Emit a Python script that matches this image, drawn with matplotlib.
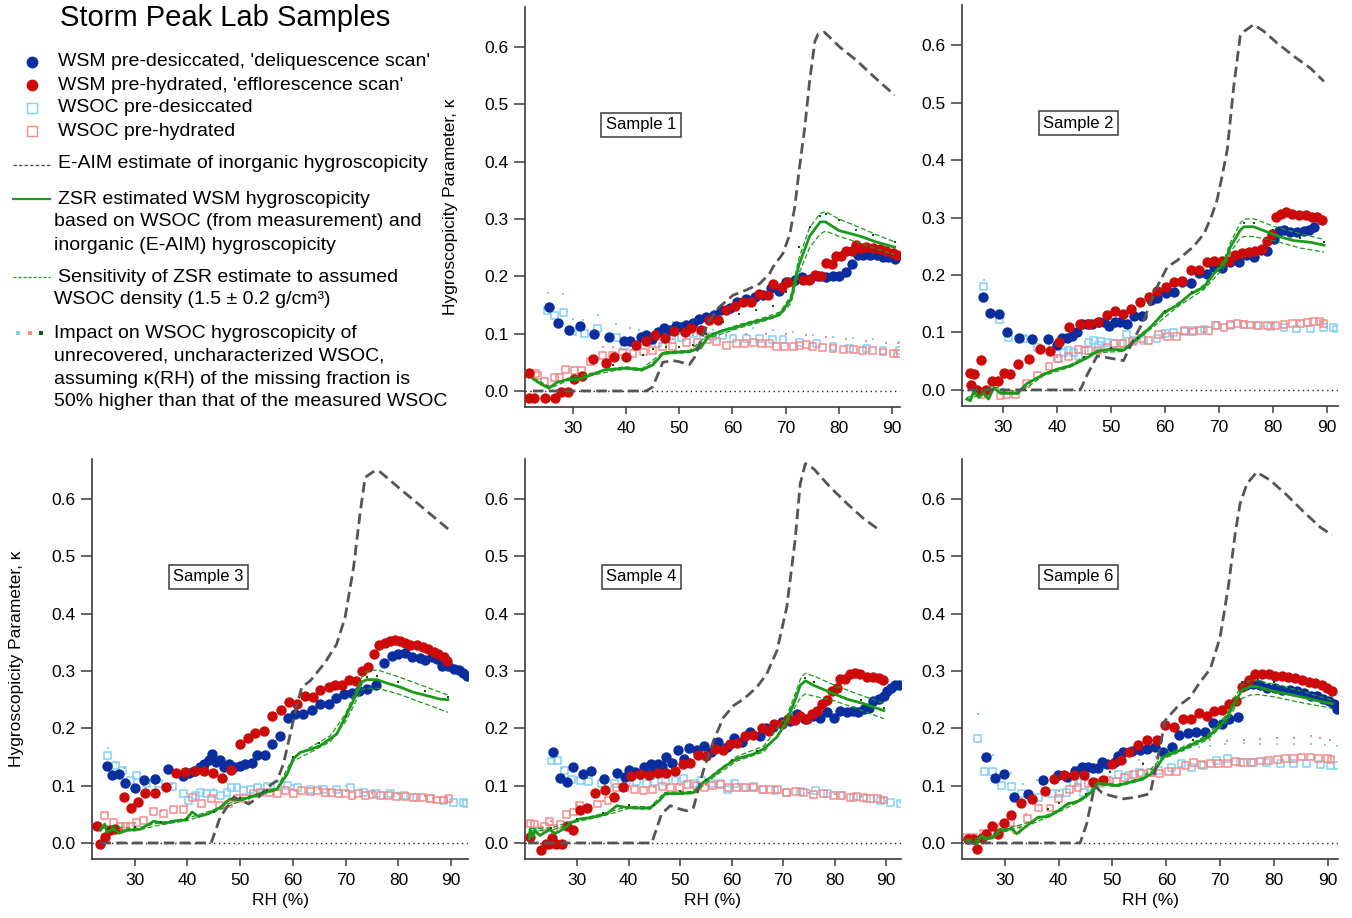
import matplotlib
matplotlib.use('Agg')
import matplotlib.pyplot as plt
import numpy as np

plt.rcParams['font.family'] = ['Liberation Sans', 'DejaVu Sans']

# ---------------- colours ----------------
C_BLUE = '#0b2e9e'
C_RED = '#cc0a0a'
C_LBLUE = '#82cff8'
C_LRED = '#f58a8a'
C_GREEN = '#1a9a1a'
C_DGREEN = '#0f5a0f'
C_GRAY = '#555555'

# ---------------- data: (RH %, kappa) ----------------
# Sample 1
S1_WSM_DRY = [(25.6,0.147),(27.2,0.119),(29.2,0.107),(31.3,0.113),(33.9,0.100),(36.8,0.094),(39.6,0.087),(40.7,0.088),
              (42.9,0.095),(43.8,0.097),(44.9,0.091),(46.0,0.103),(47.2,0.109),(48.2,0.106),(49.4,0.113),(50.4,0.112),
              (51.3,0.115),(52.6,0.119),(53.8,0.126),(55.1,0.129),(56.5,0.132),(57.9,0.141),(59.5,0.144),(60.9,0.155),
              (62.5,0.160),(64.2,0.164),(65.7,0.167),(67.3,0.180),(68.7,0.174),(70.1,0.190),(71.7,0.193),(73.1,0.199),
              (74.6,0.196),(76.1,0.200),(77.6,0.198),(78.9,0.200),(80.0,0.201),(81.3,0.208),(82.5,0.222),(83.6,0.237),
              (84.5,0.237),(85.8,0.238),(87.1,0.237),(88.3,0.233),(89.2,0.234),(90.5,0.231)]
S1_WSM_WET = [(21.8,0.031),(21.8,-0.013),(22.6,-0.013),(24.7,-0.012),(26.7,-0.012),(27.8,-0.002),(29.1,-0.002),(30.3,0.020),
              (31.8,0.026),(33.8,0.055),(36.3,0.049),(37.8,0.060),(40.0,0.060),(41.9,0.081),(43.8,0.087),(45.5,0.098),
              (47.4,0.093),(49.1,0.105),(51.0,0.103),(52.3,0.109),(54.0,0.107),(55.6,0.124),(57.3,0.123),(58.8,0.141),
              (60.4,0.149),(62.0,0.155),(63.5,0.155),(65.0,0.170),(66.7,0.167),(67.7,0.186),(69.4,0.181),(70.4,0.190),
              (73.3,0.193),(74.4,0.194),(75.5,0.202),(76.7,0.200),(77.6,0.223),(78.8,0.221),(79.5,0.235),(80.5,0.235),
              (81.4,0.245),(82.4,0.244),(83.3,0.254),(84.2,0.250),(85.2,0.251),(86.4,0.250),(87.7,0.247),(88.9,0.244),
              (90.2,0.240),(91.0,0.237)]
S1_WSOC_DRY = [(25.3,0.141),(26.6,0.132),(28.2,0.137),(30.0,0.103),(32.2,0.100),(34.7,0.109),(38.2,0.094),(39.7,0.077),
               (41.9,0.077),(44.1,0.085),(46.0,0.083),(48.5,0.090),(50.4,0.093),(52.6,0.100),(54.5,0.097),(56.3,0.095),
               (58.2,0.097),(60.1,0.091),(62.6,0.091),(65.1,0.091),(67.6,0.090),(69.5,0.090),(72.6,0.085),(75.8,0.083),
               (78.9,0.077),(82.0,0.074),(85.2,0.074),(88.3,0.071),(91.4,0.070)]
S1_WSOC_WET = [(23.0,0.031),(23.4,0.027),(24.7,0.017),(26.6,0.024),(27.5,0.023),(28.7,0.037),(30.3,0.035),(31.6,0.035),
               (33.4,0.051),(35.6,0.062),(37.5,0.062),(39.4,0.068),(41.3,0.065),(43.2,0.068),(45.0,0.071),(46.9,0.077),
               (48.8,0.077),(51.3,0.085),(53.5,0.084),(55.4,0.090),(57.0,0.087),(58.8,0.080),(60.7,0.083),(62.3,0.083),
               (63.9,0.085),(65.4,0.083),(67.0,0.083),(68.2,0.077),(69.8,0.078),(71.4,0.078),(72.6,0.080),(73.9,0.081),
               (75.1,0.077),(77.0,0.076),(78.9,0.074),(80.8,0.072),(82.7,0.072),(84.5,0.071),(86.4,0.070),(88.3,0.068),
               (90.2,0.066),(91.1,0.066)]
S1_IMP_DRY = [(25.3,0.171),(28.2,0.169),(30.0,0.126),(31.9,0.123),(34.7,0.133),(38.2,0.117),(40.7,0.109),(42.5,0.106),
              (45.0,0.103),(48.8,0.120),(52.6,0.109),(56.3,0.106),(60.0,0.106),(63.9,0.109),(67.6,0.106),(71.4,0.103),
              (75.1,0.098),(78.9,0.095),(82.7,0.093),(86.4,0.090),(91.4,0.085)]
S1_IMP_WET = [(35.6,0.077),(37.5,0.077),(41.3,0.080),(45.0,0.088),(48.8,0.091),(52.6,0.097),(55.4,0.100),(58.8,0.097),
              (62.6,0.100),(66.3,0.100),(70.1,0.100),(73.9,0.098),(77.6,0.094),(81.4,0.091),(85.2,0.088),(88.9,0.084),
              (91.1,0.083)]
S1_IMP_ZSR = [(37.5,0.045),(40.0,0.053),(43.2,0.062),(45.0,0.074),(47.6,0.077),(50.0,0.077),(52.6,0.080),(55.0,0.100),
              (58.2,0.120),(61.3,0.135),(64.5,0.141),(67.6,0.149),(70.0,0.173),(71.4,0.193),(72.6,0.251),(74.5,0.286),
              (76.4,0.306),(77.6,0.309),(80.0,0.298),(83.3,0.280),(86.4,0.272),(90.5,0.260)]
S1_EAIM = [(22.5,0.0),(43.8,0.0),(45.0,0.007),(46.3,0.036),(46.9,0.050),(48.8,0.053),(50.0,0.051),(51.9,0.046),
           (52.9,0.059),(54.5,0.100),(55.7,0.123),(57.6,0.147),(60.1,0.167),(62.6,0.176),(65.1,0.187),(67.0,0.205),
           (67.6,0.216),(69.5,0.240),(70.8,0.274),(71.7,0.320),(72.6,0.390),(73.6,0.460),(74.5,0.540),(75.5,0.610),
           (76.1,0.623),(77.3,0.626),(80.2,0.600),(83.3,0.577),(86.4,0.550),(90.5,0.516)]
S1_ZSR = [(22.5,0.0215),(24.0,0.012),(25.5,0.005),(27.0,0.015),(29.0,0.020),(31.0,0.020),(34.0,0.030),(36.0,0.037),
          (38.0,0.038),(40.0,0.040),(43.0,0.037),(45.0,0.045),(47.0,0.066),(50.0,0.068),(52.0,0.069),(54.0,0.075),
          (55.5,0.095),(58.0,0.105),(61.0,0.112),(63.0,0.118),(66.0,0.125),(68.0,0.130),(69.0,0.135),(71.0,0.160),
          (72.5,0.220),(74.5,0.270),(76.5,0.295),(77.5,0.295),(80.0,0.280),(84.0,0.270),(87.0,0.260),(90.5,0.251)]
S1_ZSR_HI = [(22.5,0.023),(25.5,0.008),(29.0,0.022),(34.0,0.032),(38.0,0.040),(40.0,0.042),(43.0,0.039),(47.0,0.068),
             (52.0,0.071),(55.5,0.098),(61.0,0.115),(66.0,0.128),(69.0,0.138),(71.0,0.167),(72.5,0.232),(74.5,0.285),
             (76.5,0.310),(77.5,0.313),(80.0,0.300),(84.0,0.285),(87.0,0.273),(90.5,0.260)]
S1_ZSR_LO = [(22.5,0.020),(25.5,0.004),(29.0,0.018),(34.0,0.028),(38.0,0.036),(40.0,0.038),(43.0,0.035),(47.0,0.064),
             (52.0,0.067),(55.5,0.092),(61.0,0.109),(66.0,0.122),(69.0,0.132),(71.0,0.153),(72.5,0.205),(74.5,0.250),
             (76.5,0.274),(77.5,0.279),(80.0,0.270),(84.0,0.258),(87.0,0.248),(90.5,0.238)]

# Sample 2
S2_WSM_DRY = [(26.2,0.161),(27.5,0.134),(29.2,0.132),(30.7,0.100),(32.9,0.090),(35.4,0.089),(38.3,0.089),(40.0,0.079),
              (40.9,0.090),(41.9,0.090),(42.8,0.094),(43.7,0.100),(44.6,0.115),(45.6,0.115),(46.5,0.115),(47.7,0.118),
              (48.6,0.118),(49.6,0.112),(50.8,0.118),(51.7,0.119),(53.0,0.114),(54.2,0.129),(55.7,0.129),(57.3,0.157),
              (58.5,0.160),(60.1,0.168),(61.6,0.170),(63.1,0.188),(64.7,0.186),(66.2,0.203),(67.7,0.202),(69.0,0.214),
              (70.6,0.213),(72.1,0.222),(73.6,0.222),(74.9,0.234),(76.4,0.232),(77.7,0.243),(78.9,0.242),(80.1,0.263),
              (81.0,0.277),(82.0,0.278),(83.2,0.275),(84.4,0.275),(85.7,0.277),(86.6,0.279),(87.5,0.284)]
S2_WSM_WET = [(23.8,0.029),(24.6,0.027),(24.1,0.009),(25.2,0.000),(26.0,0.052),(26.9,0.000),(27.9,0.016),(29.0,0.016),
              (30.2,0.029),(31.2,0.027),(32.8,0.045),(34.8,0.054),(36.9,0.071),(38.6,0.067),(40.4,0.083),(42.2,0.109),
              (44.2,0.115),(45.9,0.115),(47.6,0.119),(49.3,0.130),(50.8,0.138),(52.2,0.133),(53.6,0.141),(55.4,0.153),
              (57.0,0.162),(58.5,0.173),(60.1,0.179),(61.6,0.188),(63.1,0.189),(64.7,0.209),(66.2,0.208),(67.7,0.222),
              (69.0,0.224),(70.6,0.225),(71.8,0.225),(73.0,0.234),(74.3,0.238),(75.5,0.240),(76.7,0.242),(78.0,0.246),
              (78.9,0.260),(79.8,0.272),(80.6,0.301),(81.4,0.307),(82.3,0.310),(83.5,0.307),(84.8,0.305),(86.0,0.304),
              (87.2,0.301),(88.1,0.301),(89.1,0.296)]
S2_WSOC_DRY = [(26.4,0.180),(29.4,0.123),(31.0,0.091),(33.8,0.089),(36.3,0.074),(39.1,0.077),(40.3,0.054),(41.2,0.065),
               (42.2,0.068),(43.1,0.065),(44.0,0.059),(45.0,0.069),(45.9,0.083),(46.8,0.086),(47.7,0.077),(48.3,0.084),
               (49.3,0.083),(50.5,0.080),(51.7,0.081),(52.8,0.097),(54.2,0.086),(56.0,0.086),(58.5,0.089),(60.1,0.098),
               (61.6,0.100),(63.5,0.102),(65.3,0.103),(67.2,0.106),(69.6,0.112),(72.1,0.112),(74.6,0.114),(77.0,0.112),
               (79.5,0.110),(82.0,0.108),(84.4,0.106),(86.9,0.106),(89.4,0.109),(91.2,0.109),(91.8,0.106)]
S2_WSOC_WET = [(26.1,-0.008),(29.5,-0.010),(30.7,-0.008),(32.3,-0.008),(34.4,0.011),(36.4,0.026),(38.5,0.040),(40.0,0.054),
               (42.2,0.058),(44.0,0.071),(45.9,0.068),(47.4,0.069),(49.3,0.074),(50.6,0.081),(52.2,0.080),(53.9,0.084),
               (55.7,0.089),(57.0,0.086),(58.8,0.097),(60.4,0.093),(62.1,0.093),(63.5,0.103),(65.0,0.102),(66.5,0.103),
               (68.1,0.104),(69.3,0.112),(70.9,0.109),(72.1,0.114),(73.3,0.115),(74.6,0.114),(75.8,0.113),(77.3,0.112),
               (78.9,0.112),(80.4,0.112),(82.0,0.114),(83.5,0.115),(85.1,0.116),(86.3,0.118),(87.5,0.119),(88.5,0.119),
               (89.4,0.115)]
S2_IMP_DRY = [(26.4,0.192),(27.6,0.139),(29.4,0.129),(31.0,0.097),(34.0,0.094),(40.0,0.080),(45.0,0.075),(50.0,0.087),
              (55.0,0.092),(60.0,0.103),(65.0,0.107),(70.0,0.115),(75.0,0.117),(80.0,0.114),(85.0,0.111),(90.0,0.112)]
S2_IMP_WET = [(35.0,0.015),(40.0,0.058),(45.0,0.074),(50.0,0.083),(55.0,0.092),(60.0,0.098),(65.0,0.106),(70.0,0.114),
              (75.0,0.118),(80.0,0.117),(85.0,0.120),(89.0,0.119)]
S2_IMP_ZSR = [(45.0,0.058),(50.0,0.073),(55.0,0.091),(60.0,0.138),(65.0,0.170),(70.0,0.215),(74.6,0.290),(76.4,0.290),
              (80.0,0.279),(85.0,0.265),(89.4,0.258)]
S2_EAIM = [(23.5,0.0),(44.3,0.0),(45.5,0.025),(47.4,0.059),(50.0,0.055),(52.3,0.051),(54.0,0.085),(56.0,0.120),
           (58.0,0.170),(60.4,0.214),(62.2,0.225),(65.3,0.250),(67.2,0.272),(68.5,0.300),(69.6,0.330),(70.5,0.370),
           (71.5,0.418),(72.7,0.528),(73.9,0.616),(74.6,0.624),(76.4,0.636),(78.3,0.624),(80.7,0.604),(83.8,0.581),
           (86.9,0.560),(89.4,0.537)]
S2_ZSR = [(23.3,-0.016),(23.95,-0.019),(24.6,-0.002),(25.5,-0.013),(26.4,-0.006),(27.3,-0.016),(28.3,0.004),(29.5,-0.006),
          (32.6,-0.006),(34.4,0.011),(37.5,0.027),(40.0,0.036),(42.5,0.042),(45.6,0.056),(47.4,0.067),(49.9,0.071),
          (52.3,0.069),(54.8,0.089),(57.3,0.109),(59.8,0.135),(62.2,0.147),(64.7,0.167),(67.2,0.179),(69.0,0.202),
          (70.9,0.220),(72.1,0.249),(73.9,0.278),(74.6,0.284),(76.4,0.284),(78.9,0.275),(81.4,0.266),(83.8,0.260),
          (86.9,0.257),(89.4,0.252)]
S2_ZSR_HI = [(23.3,-0.014),(28.0,0.006),(32.6,-0.004),(37.5,0.029),(42.5,0.044),(47.4,0.069),(52.3,0.071),(57.3,0.111),
             (62.2,0.150),(67.2,0.183),(70.9,0.226),(72.1,0.257),(73.9,0.290),(74.6,0.297),(76.4,0.298),(80.0,0.285),
             (85.0,0.272),(89.4,0.262)]
S2_ZSR_LO = [(23.3,-0.018),(28.0,0.002),(32.6,-0.008),(37.5,0.025),(42.5,0.040),(47.4,0.065),(52.3,0.067),(57.3,0.106),
             (62.2,0.144),(67.2,0.175),(70.9,0.213),(72.1,0.240),(73.9,0.264),(74.6,0.267),(76.4,0.267),(80.0,0.260),
             (85.0,0.247),(89.4,0.240)]

# Sample 3
S3_WSM_DRY = [(24.8,0.135),(25.7,0.119),(27.0,0.120),(28.2,0.104),(30.0,0.096),(31.7,0.110),(33.9,0.112),(36.3,0.129),
              (39.2,0.116),(40.2,0.122),(41.3,0.126),(42.3,0.132),(43.2,0.137),(44.0,0.144),(44.7,0.155),(45.5,0.141),
              (46.2,0.144),(46.9,0.132),(47.8,0.138),(48.8,0.132),(49.9,0.135),(51.0,0.137),(52.2,0.139),(53.2,0.154),
              (54.8,0.154),(56.0,0.172),(57.6,0.186),(59.0,0.218),(60.4,0.225),(62.0,0.225),(63.6,0.232),(65.1,0.243),
              (66.8,0.242),(68.2,0.253),(69.6,0.260),(71.2,0.261),(72.6,0.265),(74.0,0.269),(75.8,0.275),(77.2,0.314),
              (78.8,0.326),(80.0,0.329),(81.3,0.332),(82.6,0.324),(84.1,0.323),(85.1,0.320),(86.4,0.324),(87.3,0.321),
              (88.2,0.308),(89.5,0.308),(90.5,0.304),(91.4,0.301),(92.3,0.296),(93.0,0.292)]
S3_WSM_WET = [(22.9,0.030),(23.4,-0.002),(24.4,0.010),(25.4,0.022),(26.3,0.024),(28.0,0.080),(29.3,0.061),(30.6,0.071),
              (31.9,0.087),(33.9,0.087),(35.9,0.097),(37.9,0.122),(39.6,0.123),(41.4,0.125),(43.1,0.125),(44.8,0.122),
              (46.6,0.114),(48.3,0.127),(49.9,0.173),(51.5,0.183),(52.9,0.192),(54.6,0.196),(56.0,0.222),(57.7,0.232),
              (59.2,0.246),(60.8,0.243),(62.3,0.256),(63.9,0.254),(65.2,0.267),(66.8,0.272),(68.0,0.275),(69.3,0.276),
              (70.7,0.285),(72.0,0.283),(73.1,0.300),(74.3,0.307),(75.3,0.330),(76.4,0.346),(77.5,0.349),(78.5,0.352),
              (79.4,0.355),(80.3,0.352),(81.3,0.349),(82.2,0.346),(83.5,0.345),(84.6,0.342),(85.7,0.339),(86.7,0.333),
              (87.6,0.330),(88.6,0.324),(89.2,0.318)]
S3_WSOC_DRY = [(24.9,0.152),(26.3,0.135),(27.6,0.126),(29.2,0.109),(30.4,0.118),(32.3,0.103),(34.5,0.104),(37.2,0.098),
               (39.3,0.086),(40.2,0.074),(41.5,0.083),(42.4,0.088),(43.7,0.086),(45.0,0.086),(46.2,0.083),(47.5,0.088),
               (48.4,0.097),(49.4,0.097),(50.7,0.091),(51.9,0.093),(53.2,0.097),(55.1,0.098),(57.0,0.100),(58.9,0.100),
               (60.8,0.096),(63.3,0.094),(65.8,0.094),(68.3,0.093),(70.9,0.097),(73.4,0.088),(75.9,0.086),(78.5,0.086),
               (81.0,0.083),(83.5,0.080),(86.0,0.077),(88.6,0.074),(90.5,0.071),(92.3,0.071),(93.0,0.069)]
S3_WSOC_WET = [(24.3,0.048),(26.0,0.035),(27.3,0.029),(28.2,0.029),(29.2,0.029),(30.4,0.036),(31.7,0.040),(33.6,0.055),
               (35.5,0.052),(37.4,0.059),(39.2,0.059),(40.9,0.080),(42.6,0.069),(44.5,0.078),(46.0,0.065),(47.8,0.068),
               (49.4,0.077),(51.0,0.077),(52.6,0.086),(53.8,0.088),(55.6,0.088),(57.0,0.087),(58.6,0.091),(60.1,0.086),
               (61.7,0.091),(63.3,0.090),(64.6,0.091),(66.1,0.088),(67.4,0.088),(68.7,0.086),(69.9,0.086),(71.2,0.083),
               (72.5,0.086),(73.7,0.083),(75.0,0.084),(76.6,0.083),(78.1,0.083),(79.7,0.081),(81.3,0.081),(82.9,0.080),
               (84.5,0.079),(86.0,0.077),(87.3,0.075),(88.6,0.075),(89.5,0.077)]
S3_IMP_DRY = [(25.0,0.165),(26.5,0.140),(28.0,0.130),(30.0,0.112),(32.0,0.108),(35.0,0.108),(37.0,0.103),(40.0,0.088),
              (45.0,0.095),(50.0,0.100),(55.0,0.103),(60.0,0.102),(65.0,0.100),(70.0,0.100),(75.0,0.092),(80.0,0.088),
              (85.0,0.082),(90.0,0.076),(93.0,0.073)]
S3_IMP_WET = [(25.0,0.050),(30.0,0.034),(35.0,0.056),(40.0,0.064),(45.0,0.080),(50.0,0.082),(55.0,0.092),(60.0,0.095),
              (65.0,0.094),(70.0,0.090),(75.0,0.088),(80.0,0.086),(85.0,0.082),(89.0,0.080)]
S3_IMP_ZSR = [(25.0,0.025),(30.0,0.027),(35.0,0.037),(40.0,0.042),(45.0,0.054),(50.0,0.078),(55.0,0.092),(60.0,0.150),
              (65.0,0.174),(70.0,0.222),(74.0,0.290),(76.0,0.292),(80.0,0.280),(85.0,0.265),(89.4,0.255)]
S3_EAIM = [(23.5,0.0),(44.5,0.0),(46.2,0.045),(48.8,0.080),(50.5,0.073),(51.6,0.068),(53.5,0.080),(55.1,0.097),
           (57.0,0.109),(58.2,0.138),(59.5,0.190),(60.8,0.243),(61.7,0.272),(63.3,0.283),(66.1,0.315),(68.3,0.347),
           (69.9,0.394),(71.5,0.481),(72.8,0.580),(73.7,0.638),(75.6,0.650),(76.6,0.647),(80.3,0.618),(84.1,0.589),
           (89.8,0.545)]
S3_ZSR = [(23.5,0.022),(24.3,0.033),(24.8,0.019),(26.0,0.024),(27.0,0.017),(28.5,0.022),(31.1,0.024),(33.6,0.038),
          (35.5,0.034),(38.0,0.039),(39.6,0.040),(40.9,0.054),(42.1,0.046),(44.0,0.051),(46.2,0.062),(48.1,0.077),
          (50.0,0.075),(51.9,0.080),(53.8,0.086),(57.0,0.094),(58.9,0.120),(60.1,0.147),(61.4,0.158),(63.3,0.163),
          (65.2,0.170),(67.1,0.182),(68.3,0.190),(69.9,0.219),(71.5,0.249),(73.1,0.281),(74.0,0.285),(75.9,0.285),
          (77.8,0.279),(80.3,0.272),(82.8,0.263),(85.4,0.257),(87.9,0.251),(89.4,0.250)]
S3_ZSR_HI = [(24.0,0.030),(30.0,0.025),(35.0,0.036),(40.0,0.043),(45.0,0.058),(50.0,0.077),(55.0,0.091),(57.0,0.096),
             (60.1,0.150),(63.3,0.167),(67.1,0.187),(70.0,0.226),(73.1,0.290),(74.0,0.300),(76.0,0.302),(80.0,0.290),
             (85.0,0.273),(89.4,0.258)]
S3_ZSR_LO = [(24.0,0.026),(30.0,0.021),(35.0,0.032),(40.0,0.039),(45.0,0.054),(50.0,0.073),(55.0,0.087),(57.0,0.092),
             (60.1,0.143),(63.3,0.158),(67.1,0.177),(70.0,0.212),(73.1,0.268),(74.0,0.270),(76.0,0.270),(80.0,0.260),
             (85.0,0.243),(89.4,0.228)]

# Sample 4
S4_WSM_DRY = [(25.4,0.158),(26.6,0.114),(28.0,0.106),(29.3,0.132),(31.1,0.120),(32.8,0.125),(35.3,0.112),(37.8,0.122),
              (39.3,0.115),(40.0,0.127),(41.3,0.123),(42.2,0.120),(42.9,0.132),(43.9,0.126),(44.3,0.138),(45.1,0.135),
              (45.8,0.138),(46.4,0.135),(47.3,0.150),(48.4,0.139),(49.5,0.162),(50.8,0.147),(51.8,0.165),(53.2,0.162),
              (54.7,0.169),(56.0,0.158),(57.4,0.177),(59.1,0.168),(60.5,0.183),(62.0,0.176),(63.6,0.194),(65.4,0.186),
              (66.7,0.201),(68.1,0.203),(69.7,0.211),(71.4,0.212),(72.7,0.225),(74.3,0.217),(75.8,0.221),(77.2,0.218),
              (78.5,0.228),(79.9,0.218),(81.1,0.231),(82.4,0.228),(83.5,0.231),(84.6,0.228),(85.6,0.234),(86.6,0.236),
              (87.4,0.247),(88.5,0.251),(89.5,0.257),(90.1,0.266),(90.9,0.271),(91.7,0.275),(92.4,0.276)]
S4_WSM_WET = [(20.9,0.010),(23.0,-0.012),(24.0,-0.002),(24.6,-0.002),(25.1,0.008),(25.9,-0.002),(27.0,-0.002),(28.1,0.030),
              (29.2,0.022),(30.5,0.058),(31.9,0.061),(33.4,0.088),(35.4,0.093),(37.2,0.081),(38.9,0.097),(40.4,0.116),
              (42.2,0.120),(44.0,0.118),(45.8,0.122),(47.3,0.122),(49.0,0.125),(50.5,0.138),(51.9,0.140),(53.4,0.153),
              (55.0,0.151),(56.7,0.164),(58.3,0.162),(59.7,0.173),(61.1,0.174),(62.6,0.186),(64.2,0.189),(65.9,0.200),
              (67.2,0.196),(68.3,0.208),(69.7,0.207),(71.0,0.217),(72.3,0.214),(73.3,0.222),(74.6,0.217),(75.6,0.225),
              (76.5,0.230),(77.5,0.243),(78.5,0.249),(79.4,0.266),(80.4,0.271),(81.1,0.286),(82.0,0.286),(83.0,0.295),
              (84.0,0.296),(84.9,0.294),(86.2,0.290),(87.5,0.289),(88.5,0.288),(89.4,0.285)]
S4_WSOC_DRY = [(25.1,0.143),(26.2,0.144),(27.5,0.126),(29.0,0.110),(30.6,0.109),(32.2,0.108),(34.8,0.103),(37.2,0.104),
               (39.6,0.106),(41.6,0.107),(43.5,0.103),(45.1,0.108),(47.1,0.108),(49.0,0.109),(50.6,0.112),(52.6,0.104),
               (54.2,0.109),(56.1,0.103),(57.8,0.103),(59.1,0.094),(60.5,0.104),(62.3,0.097),(64.2,0.098),(66.2,0.094),
               (68.4,0.091),(70.7,0.088),(73.3,0.090),(76.2,0.091),(78.5,0.086),(81.1,0.083),(83.7,0.080),(86.2,0.077),
               (88.8,0.074),(90.8,0.071),(92.7,0.069)]
S4_WSOC_WET = [(20.9,0.034),(21.7,0.032),(22.7,0.022),(23.6,0.029),(24.6,0.037),(25.5,0.026),(26.7,0.033),(27.9,0.049),
               (29.3,0.054),(30.5,0.065),(32.0,0.061),(34.0,0.068),(36.0,0.074),(37.6,0.096),(39.3,0.096),(41.1,0.093),
               (42.9,0.091),(44.7,0.093),(46.6,0.098),(48.2,0.096),(49.9,0.097),(51.4,0.102),(53.1,0.100),(54.7,0.097),
               (56.3,0.100),(57.8,0.102),(59.4,0.097),(61.0,0.096),(62.6,0.096),(64.2,0.096),(65.9,0.094),(67.5,0.093),
               (68.8,0.093),(70.7,0.088),(72.3,0.090),(73.9,0.088),(75.9,0.084),(77.8,0.086),(79.8,0.083),(81.4,0.083),
               (83.0,0.080),(84.3,0.081),(85.6,0.079),(86.9,0.077),(88.2,0.077),(89.5,0.075)]
S4_IMP_DRY = [(25.1,0.148),(27.0,0.130),(30.0,0.113),(35.0,0.107),(40.0,0.110),(45.0,0.112),(50.0,0.114),(55.0,0.109),
              (60.0,0.106),(65.0,0.100),(70.0,0.093),(75.0,0.093),(80.0,0.087),(85.0,0.081),(90.0,0.074),(92.7,0.071)]
S4_IMP_WET = [(21.0,0.036),(25.0,0.039),(30.0,0.066),(35.0,0.073),(40.0,0.099),(45.0,0.097),(50.0,0.101),(55.0,0.101),
              (60.0,0.100),(65.0,0.097),(70.0,0.093),(75.0,0.088),(80.0,0.086),(85.0,0.082),(89.5,0.078)]
S4_IMP_ZSR = [(25.0,0.026),(30.0,0.041),(35.0,0.052),(40.0,0.066),(45.0,0.066),(50.0,0.090),(55.0,0.110),(60.0,0.145),
              (65.0,0.161),(70.0,0.210),(74.3,0.288),(76.0,0.281),(80.0,0.268),(85.0,0.250),(89.5,0.236)]
S4_EAIM = [(20.5,0.0),(44.5,0.0),(46.4,0.051),(48.1,0.065),(50.0,0.059),(51.3,0.056),(52.6,0.062),(54.5,0.126),
           (56.5,0.179),(58.4,0.219),(60.4,0.240),(62.3,0.251),(64.9,0.272),(66.8,0.295),(68.8,0.336),(70.7,0.412),
           (72.3,0.528),(73.3,0.627),(74.3,0.662),(75.9,0.653),(79.1,0.621),(82.4,0.592),(85.6,0.566),(88.8,0.545)]
S4_ZSR = [(20.7,0.007),(20.9,0.024),(21.4,0.010),(21.8,0.022),(22.8,0.013),(24.8,0.024),(25.7,0.016),(27.3,0.024),
          (29.0,0.036),(30.6,0.042),(32.5,0.044),(34.5,0.048),(35.8,0.051),(37.7,0.065),(39.6,0.062),(42.2,0.061),
          (44.2,0.061),(46.1,0.075),(47.1,0.086),(49.4,0.086),(52.6,0.088),(54.5,0.106),(56.5,0.118),(58.4,0.132),
          (61.0,0.147),(64.2,0.155),(66.2,0.164),(68.8,0.185),(70.7,0.214),(72.3,0.249),(73.3,0.275),(74.3,0.283),
          (75.9,0.275),(79.1,0.263),(82.4,0.251),(85.6,0.243),(89.5,0.231)]
S4_ZSR_HI = [(21.0,0.025),(25.0,0.026),(30.0,0.041),(35.0,0.051),(40.0,0.064),(44.2,0.063),(47.0,0.088),(52.6,0.090),
             (56.5,0.121),(61.0,0.151),(66.2,0.169),(70.7,0.222),(72.3,0.260),(73.5,0.290),(74.3,0.296),(76.0,0.291),
             (80.0,0.275),(85.0,0.258),(89.5,0.244)]
S4_ZSR_LO = [(21.0,0.021),(25.0,0.022),(30.0,0.037),(35.0,0.047),(40.0,0.060),(44.2,0.059),(47.0,0.084),(52.6,0.086),
             (56.5,0.115),(61.0,0.143),(66.2,0.159),(70.7,0.206),(72.3,0.238),(73.5,0.255),(74.3,0.260),(76.0,0.256),
             (80.0,0.248),(85.0,0.232),(89.5,0.217)]

# Sample 6
S6_WSM_DRY = [(26.6,0.150),(28.1,0.114),(29.9,0.120),(31.7,0.081),(34.3,0.086),(37.1,0.109),(39.9,0.118),(41.5,0.115),
              (43.0,0.125),(44.4,0.133),(45.5,0.132),(46.4,0.131),(47.4,0.131),(48.0,0.141),(48.9,0.138),(50.5,0.141),
              (51.1,0.152),(52.0,0.158),(53.6,0.160),(55.1,0.162),(56.4,0.164),(57.9,0.167),(59.3,0.158),(61.0,0.167),
              (62.4,0.189),(64.1,0.192),(65.5,0.193),(67.2,0.193),(68.6,0.209),(70.3,0.207),(71.7,0.217),(73.4,0.219),
              (74.9,0.275),(76.2,0.278),(77.5,0.275),(78.8,0.271),(80.2,0.271),(81.5,0.267),(83.0,0.267),(84.3,0.265),
              (85.5,0.261),(86.8,0.257),(88.0,0.256),(89.2,0.251),(90.2,0.247),(91.1,0.242),(91.8,0.234)]
S6_WSM_WET = [(23.2,0.007),(24.1,0.007),(24.9,-0.010),(25.7,0.009),(26.6,0.016),(27.7,0.030),(28.8,0.016),(29.9,0.034),
              (31.2,0.048),(33.1,0.070),(35.1,0.076),(37.4,0.091),(39.1,0.111),(41.0,0.118),(42.9,0.119),(44.8,0.118),
              (46.4,0.106),(48.3,0.109),(50.0,0.138),(51.5,0.145),(53.1,0.158),(54.8,0.171),(56.5,0.179),(58.2,0.179),
              (59.8,0.205),(61.5,0.202),(63.1,0.217),(64.6,0.217),(66.0,0.226),(67.5,0.222),(68.9,0.231),(70.3,0.232),
              (71.6,0.242),(73.0,0.247),(74.0,0.273),(75.3,0.285),(76.5,0.295),(77.8,0.295),(79.0,0.294),(80.2,0.292),
              (81.5,0.292),(82.7,0.290),(84.0,0.288),(85.2,0.285),(86.5,0.281),(87.7,0.279),(89.0,0.275),(89.9,0.271),
              (90.8,0.266)]
S6_WSOC_DRY = [(25.0,0.182),(26.3,0.125),(27.8,0.125),(29.4,0.100),(31.2,0.098),(33.1,0.086),(36.2,0.080),(38.7,0.086),
               (40.2,0.087),(41.5,0.088),(42.7,0.106),(43.6,0.106),(44.6,0.088),(46.1,0.097),(47.7,0.103),(49.2,0.109),
               (51.1,0.120),(52.9,0.118),(55.1,0.123),(57.0,0.123),(58.5,0.126),(61.0,0.132),(62.9,0.138),(64.7,0.132),
               (66.9,0.135),(69.4,0.144),(71.3,0.147),(73.7,0.141),(76.2,0.141),(78.7,0.141),(81.2,0.138),(83.7,0.138),
               (86.1,0.138),(88.6,0.137),(90.5,0.135),(91.8,0.135)]
S6_WSOC_WET = [(22.9,0.009),(24.1,0.009),(26.0,0.017),(28.0,0.017),(29.4,0.027),(31.0,0.036),(32.2,0.023),(34.3,0.042),
               (36.3,0.061),(38.4,0.061),(40.0,0.077),(42.0,0.094),(43.6,0.096),(45.5,0.103),(47.4,0.106),(48.9,0.109),
               (50.7,0.108),(52.3,0.115),(53.9,0.119),(55.4,0.122),(57.0,0.123),(58.8,0.122),(60.4,0.125),(61.9,0.125),
               (63.5,0.135),(65.0,0.141),(66.6,0.137),(68.2,0.138),(69.7,0.139),(71.3,0.138),(72.8,0.142),(74.4,0.141),
               (75.9,0.141),(77.5,0.143),(79.0,0.144),(80.6,0.145),(82.1,0.148),(83.7,0.147),(85.2,0.150),(86.8,0.150),
               (88.3,0.148),(89.9,0.147),(90.6,0.145)]
S6_IMP_DRY = [(25.0,0.225),(27.8,0.154),(31.2,0.122),(33.4,0.103),(36.0,0.110),(39.9,0.112),(42.7,0.133),(45.0,0.120),
              (48.0,0.125),(51.0,0.140),(55.0,0.145),(58.0,0.150),(61.0,0.160),(63.2,0.170),(66.0,0.168),(68.2,0.170),
              (71.0,0.172),(74.4,0.174),(77.5,0.172),(80.6,0.173),(83.7,0.172),(86.8,0.173),(89.5,0.171),(91.7,0.170)]
S6_IMP_WET = [(34.0,0.050),(36.0,0.075),(40.0,0.090),(44.6,0.112),(49.5,0.125),(55.7,0.140),(60.0,0.155),(65.7,0.174),
              (68.2,0.179),(71.3,0.178),(74.4,0.180),(77.5,0.181),(80.6,0.183),(83.7,0.184),(86.8,0.186),(88.5,0.184),
              (90.5,0.180)]
S6_IMP_ZSR = [(38.0,0.060),(40.0,0.070),(45.0,0.085),(49.5,0.123),(55.7,0.137),(60.0,0.160),(65.0,0.180),(70.0,0.210),
              (74.0,0.280),(77.0,0.285),(80.0,0.280),(85.0,0.265),(90.8,0.250)]
S6_EAIM = [(22.6,0.0),(44.0,0.0),(45.2,0.033),(46.7,0.100),(48.0,0.088),(49.5,0.083),(52.0,0.077),(54.5,0.080),
           (57.0,0.086),(58.2,0.138),(59.8,0.214),(62.0,0.237),(64.4,0.254),(66.3,0.281),(68.2,0.304),(70.0,0.359),
           (71.6,0.452),(72.8,0.540),(73.7,0.592),(75.0,0.627),(76.8,0.647),(79.3,0.633),(82.4,0.607),(85.5,0.578),
           (88.6,0.551),(90.8,0.537)]
S6_ZSR = [(22.9,0.005),(23.8,0.001),(24.7,-0.002),(25.7,0.013),(26.6,0.007),(27.8,0.009),(29.1,0.024),(30.3,0.022),
          (31.2,0.026),(32.2,0.016),(33.7,0.027),(36.2,0.045),(38.1,0.046),(39.9,0.056),(41.8,0.069),(43.3,0.071),
          (44.9,0.080),(46.4,0.091),(47.2,0.104),(48.6,0.103),(50.8,0.100),(53.3,0.106),(55.7,0.112),(57.6,0.123),
          (59.5,0.150),(61.3,0.157),(63.8,0.167),(65.7,0.176),(67.5,0.183),(69.4,0.199),(71.3,0.219),(72.8,0.246),
          (74.0,0.266),(75.6,0.273),(76.8,0.273),(79.3,0.266),(82.4,0.260),(85.5,0.254),(88.6,0.247),(90.8,0.243)]
S6_ZSR_HI = [(23.0,0.006),(27.0,0.010),(30.0,0.024),(35.0,0.037),(40.0,0.058),(45.0,0.082),(47.2,0.106),(50.8,0.102),
             (55.7,0.114),(59.5,0.153),(63.8,0.170),(67.5,0.187),(71.3,0.225),(72.8,0.255),(74.0,0.275),(75.6,0.283),
             (77.0,0.283),(80.0,0.277),(85.0,0.265),(90.8,0.249)]
S6_ZSR_LO = [(23.0,0.003),(27.0,0.006),(30.0,0.020),(35.0,0.033),(40.0,0.054),(45.0,0.078),(47.2,0.102),(50.8,0.098),
             (55.7,0.110),(59.5,0.147),(63.8,0.164),(67.5,0.179),(71.3,0.212),(72.8,0.237),(74.0,0.252),(75.6,0.258),
             (77.0,0.259),(80.0,0.255),(85.0,0.245),(90.8,0.235)]

SAMPLE_NAMES = ['Sample 1', 'Sample 2', 'Sample 3', 'Sample 4', 'Sample 6']
X_LIMITS = [(21.0, 91.5), (22.4, 92.0), (21.9, 93.2), (19.9, 92.85), (22.05, 91.9)]
Y_TICKS = [0.0, 0.1, 0.2, 0.3, 0.4, 0.5, 0.6]
X_TICKS = [30, 40, 50, 60, 70, 80, 90]

SAMPLES = [
    dict(dry=S1_WSM_DRY, wet=S1_WSM_WET, wsoc_dry=S1_WSOC_DRY, wsoc_wet=S1_WSOC_WET, imp_dry=S1_IMP_DRY,
         imp_wet=S1_IMP_WET, imp_zsr=S1_IMP_ZSR, eaim=S1_EAIM, zsr=S1_ZSR, hi=S1_ZSR_HI, lo=S1_ZSR_LO),
    dict(dry=S2_WSM_DRY, wet=S2_WSM_WET, wsoc_dry=S2_WSOC_DRY, wsoc_wet=S2_WSOC_WET, imp_dry=S2_IMP_DRY,
         imp_wet=S2_IMP_WET, imp_zsr=S2_IMP_ZSR, eaim=S2_EAIM, zsr=S2_ZSR, hi=S2_ZSR_HI, lo=S2_ZSR_LO),
    dict(dry=S3_WSM_DRY, wet=S3_WSM_WET, wsoc_dry=S3_WSOC_DRY, wsoc_wet=S3_WSOC_WET, imp_dry=S3_IMP_DRY,
         imp_wet=S3_IMP_WET, imp_zsr=S3_IMP_ZSR, eaim=S3_EAIM, zsr=S3_ZSR, hi=S3_ZSR_HI, lo=S3_ZSR_LO),
    dict(dry=S4_WSM_DRY, wet=S4_WSM_WET, wsoc_dry=S4_WSOC_DRY, wsoc_wet=S4_WSOC_WET, imp_dry=S4_IMP_DRY,
         imp_wet=S4_IMP_WET, imp_zsr=S4_IMP_ZSR, eaim=S4_EAIM, zsr=S4_ZSR, hi=S4_ZSR_HI, lo=S4_ZSR_LO),
    dict(dry=S6_WSM_DRY, wet=S6_WSM_WET, wsoc_dry=S6_WSOC_DRY, wsoc_wet=S6_WSOC_WET, imp_dry=S6_IMP_DRY,
         imp_wet=S6_IMP_WET, imp_zsr=S6_IMP_ZSR, eaim=S6_EAIM, zsr=S6_ZSR, hi=S6_ZSR_HI, lo=S6_ZSR_LO),
]


def xy(pts):
    a = np.asarray(pts, dtype=float)
    return a[:, 0], a[:, 1]


W, H = 1352, 918
fig = plt.figure(figsize=(W / 100, H / 100), dpi=100)

# axes rectangles in pixels: left, top, right, bottom
RECTS = [(525, 7, 900, 407), (962, 5, 1338, 406), (92, 459, 468, 859), (525, 459, 901, 859), (962, 459, 1338, 859)]
YLABEL_ON = [True, False, True, False, False]
XLABEL_ON = [False, False, True, True, True]

SPINE = '#3a3a3a'

for i, s in enumerate(SAMPLES):
    l, t, r, b = RECTS[i]
    ax = fig.add_axes([l / W, 1 - b / H, (r - l) / W, (b - t) / H])
    ax.set_facecolor('none')
    ax.set_xlim(*X_LIMITS[i])
    ax.set_ylim(-0.028, 0.67)
    for sp in ['top', 'right']:
        ax.spines[sp].set_visible(False)
    for sp in ['left', 'bottom']:
        ax.spines[sp].set_color(SPINE)
        ax.spines[sp].set_linewidth(1.2)
    ax.set_yticks(Y_TICKS)
    ax.set_yticklabels([f'{v:.1f}' for v in Y_TICKS])
    ax.set_xticks(X_TICKS)
    ax.tick_params(axis='y', direction='out', length=8, width=1.1, color=SPINE, labelsize=12.5, pad=4)
    ax.tick_params(axis='x', direction='out', length=5, width=1.1, color=SPINE, labelsize=12.5, pad=5)

    ax.axhline(0, color='#222222', lw=1.0, ls=(0, (1, 2.5)), zorder=1)

    # WSOC squares
    x, y = xy(s['wsoc_dry'])
    ax.scatter(x, y, marker='s', s=25, facecolors='none', edgecolors=C_LBLUE, linewidths=1.1, zorder=2)
    x, y = xy(s['wsoc_wet'])
    ax.scatter(x, y, marker='s', s=25, facecolors='none', edgecolors=C_LRED, linewidths=1.1, zorder=2)
    # impact dots
    x, y = xy(s['imp_dry'])
    ax.scatter(x, y, marker='s', s=4.5, color=C_LBLUE, linewidths=0, zorder=2)
    x, y = xy(s['imp_wet'])
    ax.scatter(x, y, marker='s', s=4.5, color=C_LRED, linewidths=0, zorder=2)
    # WSM dots
    x, y = xy(s['dry'])
    ax.scatter(x, y, marker='o', s=56, color=C_BLUE, linewidths=0, zorder=3)
    x, y = xy(s['wet'])
    ax.scatter(x, y, marker='o', s=56, color=C_RED, linewidths=0, zorder=3)
    # ZSR + sensitivity
    x, y = xy(s['hi'])
    ax.plot(x, y, color=C_GREEN, lw=0.9, ls=(0, (4, 2)), zorder=4)
    x, y = xy(s['lo'])
    ax.plot(x, y, color=C_GREEN, lw=0.9, ls=(0, (4, 2)), zorder=4)
    x, y = xy(s['zsr'])
    ax.plot(x, y, color=C_GREEN, lw=2.0, zorder=5)
    x, y = xy(s['imp_zsr'])
    ax.scatter(x, y, marker='s', s=3.2, color=C_DGREEN, linewidths=0, zorder=5)
    # E-AIM
    x, y = xy(s['eaim'])
    ax.plot(x, y, color=C_GRAY, lw=2.0, ls=(0, (3.8, 1.9)), zorder=6)

    ax.text(0.31, 0.705, SAMPLE_NAMES[i], transform=ax.transAxes, ha='center', va='center', fontsize=12,
            bbox=dict(boxstyle='square,pad=0.28', fc='white', ec=SPINE, lw=1.1), zorder=7)

    if YLABEL_ON[i]:
        ax.set_ylabel('Hygroscopicity Parameter, κ', fontsize=12.5)
        ax.yaxis.set_label_coords(-0.18, 0.5)
    if XLABEL_ON[i]:
        ax.set_xlabel('RH (%)', fontsize=12.5, labelpad=4)

# ---------------- legend panel ----------------
lg = fig.add_axes([0, 0, 1, 1], zorder=-1)
lg.set_xlim(0, W)
lg.set_ylim(H, 0)
lg.axis('off')

lg.text(225, 18, 'Storm Peak Lab Samples', ha='center', va='center', fontsize=21)
FS = 14
TX = 58
lg.scatter([32], [62], s=72, color=C_BLUE, linewidths=0)
lg.text(TX, 62, "WSM pre-desiccated, 'deliquescence scan'", va='center', fontsize=FS)
lg.scatter([32], [85], s=72, color=C_RED, linewidths=0)
lg.text(TX, 85, "WSM pre-hydrated, 'efflorescence scan'", va='center', fontsize=FS)
lg.scatter([32], [108], marker='s', s=48, facecolors='none', edgecolors=C_LBLUE, linewidths=1.0)
lg.text(TX, 108, 'WSOC pre-desiccated', va='center', fontsize=FS)
lg.scatter([32], [131], marker='s', s=48, facecolors='none', edgecolors=C_LRED, linewidths=1.0)
lg.text(TX, 131, 'WSOC pre-hydrated', va='center', fontsize=FS)
lg.plot([13, 50], [165, 165], color=C_GRAY, lw=1.0, ls=(0, (2.5, 1.5)))
lg.text(TX, 164, 'E-AIM estimate of inorganic hygroscopicity', va='center', fontsize=FS)
lg.plot([13, 50], [199, 199], color=C_GREEN, lw=1.6)
lg.text(TX, 199, 'ZSR estimated WSM hygroscopicity', va='center', fontsize=FS)
lg.text(54, 222, 'based on WSOC (from measurement) and', va='center', fontsize=FS)
lg.text(54, 245, 'inorganic (E-AIM) hygroscopicity', va='center', fontsize=FS)
lg.plot([13, 50], [277, 277], color=C_GREEN, lw=0.9, ls=(0, (2.5, 1.5)))
lg.text(TX, 277, 'Sensitivity of ZSR estimate to assumed', va='center', fontsize=FS)
lg.text(54, 300, 'WSOC density (1.5 ± 0.2 g/cm³)', va='center', fontsize=FS)
lg.scatter([18], [333], marker='s', s=5, color=C_LBLUE, linewidths=0)
lg.scatter([30], [333], marker='s', s=5, color=C_LRED, linewidths=0)
lg.scatter([41], [333], marker='s', s=5, color=C_DGREEN, linewidths=0)
lg.text(54, 333, 'Impact on WSOC hygroscopicity of', va='center', fontsize=FS)
lg.text(54, 356, 'unrecovered, uncharacterized WSOC,', va='center', fontsize=FS)
lg.text(54, 379, 'assuming κ(RH) of the missing fraction is', va='center', fontsize=FS)
lg.text(54, 401, '50% higher than that of the measured WSOC', va='center', fontsize=FS)

fig.savefig('out.png', dpi=100)
